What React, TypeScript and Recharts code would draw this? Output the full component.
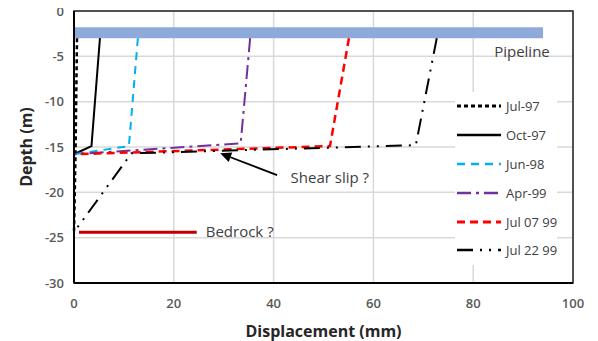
import React from 'react';
import {
  ComposedChart,
  Line,
  XAxis,
  YAxis,
  CartesianGrid,
  ReferenceArea,
  ReferenceDot,
  ReferenceLine,
} from 'recharts';

const X_TICKS = [0, 20, 40, 60, 80, 100];
const Y_TICKS = [0, -5, -10, -15, -20, -25, -30];

// displacement (mm), depth (m)
const jul97 = [
  { x: 0.6, y: -3 },
  { x: 0.3, y: -15.8 },
  { x: 0, y: -24.5 },
];
const oct97 = [
  { x: 5.2, y: -3 },
  { x: 3.5, y: -14.9 },
  { x: 0, y: -15.8 },
];
const jun98 = [
  { x: 12.8, y: -3 },
  { x: 11, y: -14.9 },
  { x: 0, y: -15.8 },
];
const apr99 = [
  { x: 35.3, y: -3 },
  { x: 33.4, y: -14.6 },
  { x: 0, y: -15.8 },
];
const jul0799 = [
  { x: 55.1, y: -3 },
  { x: 51.3, y: -14.9 },
  { x: 0, y: -15.8 },
];
const jul2299 = [
  { x: 72.7, y: -3 },
  { x: 68.5, y: -14.8 },
  { x: 11.5, y: -15.7 },
  { x: 0, y: -24.4 },
];
const pipeline = [
  { x: 0, y: -2.4 },
  { x: 94, y: -2.4 },
];
const bedrock = [
  { x: 1, y: -24.4 },
  { x: 24.6, y: -24.4 },
];

const SERIES = [
  { name: 'Jul-97', data: jul97, color: '#000000', dash: '4 3', width: 2.5 },
  { name: 'Oct-97', data: oct97, color: '#000000', dash: '', width: 2 },
  { name: 'Jun-98', data: jun98, color: '#00b0f0', dash: '8 6', width: 2 },
  { name: 'Apr-99', data: apr99, color: '#7030a0', dash: '14 5 3 5', width: 2 },
  { name: 'Jul 07 99', data: jul0799, color: '#ff0000', dash: '8 5', width: 2.5 },
  { name: 'Jul 22 99', data: jul2299, color: '#000000', dash: '16 7 2 7 2 7', width: 2 },
];

const FONT = '"Open Sans", "Liberation Sans", sans-serif';

function ArrowShape(props: any) {
  const { x1, y1, x2, y2 } = props;
  if (x1 == null) return null;
  const ang = Math.atan2(y2 - y1, x2 - x1);
  const len = 11;
  const w = 5;
  const bx = x2 - len * Math.cos(ang);
  const by = y2 - len * Math.sin(ang);
  const px = -Math.sin(ang) * w;
  const py = Math.cos(ang) * w;
  return (
    <g>
      <line x1={x1} y1={y1} x2={bx} y2={by} stroke="#000" strokeWidth={1.8} />
      <polygon
        points={`${x2},${y2} ${bx + px},${by + py} ${bx - px},${by - py}`}
        fill="#000"
      />
    </g>
  );
}

function LegendBox() {
  return (
    <div
      style={{
        position: 'absolute',
        left: 455,
        top: 92,
        fontFamily: FONT,
        fontSize: 13,
        color: '#404040',
        background: '#fff',
      }}
    >
      {SERIES.map((s) => (
        <div key={s.name} style={{ display: 'flex', alignItems: 'center', height: 28.8 }}>
          <svg width={48} height={10}>
            <line
              x1={2}
              y1={5}
              x2={46}
              y2={5}
              stroke={s.color}
              strokeWidth={s.width + 0.5}
              strokeDasharray={s.dash || undefined}
            />
          </svg>
          <span style={{ marginLeft: 3 }}>{s.name}</span>
        </div>
      ))}
    </div>
  );
}

export default function App() {
  return (
    <div
      style={{
        marginTop: -8,
        marginLeft: -8,
        width: 598,
        height: 341,
        background: '#fff',
        position: 'relative',
      }}
    >
      <ComposedChart
        width={598}
        height={341}
        margin={{ top: 11, right: 25, bottom: 0, left: 0 }}
      >
        <CartesianGrid stroke="#d9d9d9" strokeWidth={1.5} />
        <XAxis
          type="number"
          dataKey="x"
          domain={[0, 100]}
          ticks={X_TICKS}
          height={58}
          tick={{ fontSize: 13, fill: '#595959', fontFamily: FONT, fontWeight: 600 }}
          tickLine={false}
          axisLine={{ stroke: '#000', strokeWidth: 2 }}
          tickMargin={10}
          label={{
            value: 'Displacement (mm)',
            position: 'insideBottom',
            offset: 4,
            style: { fontSize: 16, fontWeight: 700, fill: '#262626', fontFamily: FONT },
          }}
        />
        <YAxis
          type="number"
          dataKey="y"
          domain={[-30, 0]}
          ticks={Y_TICKS}
          width={74}
          tick={{ fontSize: 13, fill: '#595959', fontFamily: FONT, fontWeight: 600 }}
          tickLine={false}
          axisLine={{ stroke: '#000', strokeWidth: 2 }}
          tickMargin={4}
          label={{
            value: 'Depth (m)',
            angle: -90,
            position: 'insideLeft',
            offset: 26,
            style: { fontSize: 16, fontWeight: 700, fill: '#262626', fontFamily: FONT, textAnchor: 'middle' },
          }}
        />
        <ReferenceArea
          x1={0}
          x2={100}
          y1={-30}
          y2={0}
          fill="none"
          stroke="#222"
          strokeWidth={1.5}
        />
        <Line
          data={pipeline}
          dataKey="y"
          stroke="#8eaadb"
          strokeWidth={11}
          dot={false}
          isAnimationActive={false}
          legendType="none"
        />
        <Line
          data={bedrock}
          dataKey="y"
          stroke="#c00000"
          strokeWidth={3}
          dot={false}
          isAnimationActive={false}
          legendType="none"
        />
        {SERIES.map((s) => (
          <Line
            key={s.name}
            name={s.name}
            data={s.data}
            dataKey="y"
            stroke={s.color}
            strokeWidth={s.width}
            strokeDasharray={s.dash || undefined}
            dot={false}
            isAnimationActive={false}
          />
        ))}
        <ReferenceLine
          segment={[
            { x: 40.7, y: -18.1 },
            { x: 29.3, y: -15.7 },
          ]}
          shape={ArrowShape}
        />
        <ReferenceDot
          x={84.2}
          y={-4.5}
          r={0}
          fill="none"
          stroke="none"
          label={{ value: 'Pipeline', position: 'right', offset: 0, style: { fontSize: 15, fill: '#404040', fontFamily: FONT } }}
        />
        <ReferenceDot
          x={26.4}
          y={-24.3}
          r={0}
          fill="none"
          stroke="none"
          label={{ value: 'Bedrock ?', position: 'right', offset: 0, style: { fontSize: 15, fill: '#404040', fontFamily: FONT } }}
        />
        <ReferenceDot
          x={43.4}
          y={-18.4}
          r={0}
          fill="none"
          stroke="none"
          label={{ value: 'Shear slip ?', position: 'right', offset: 0, style: { fontSize: 15, fill: '#404040', fontFamily: FONT } }}
        />
      </ComposedChart>
      <LegendBox />
    </div>
  );
}
